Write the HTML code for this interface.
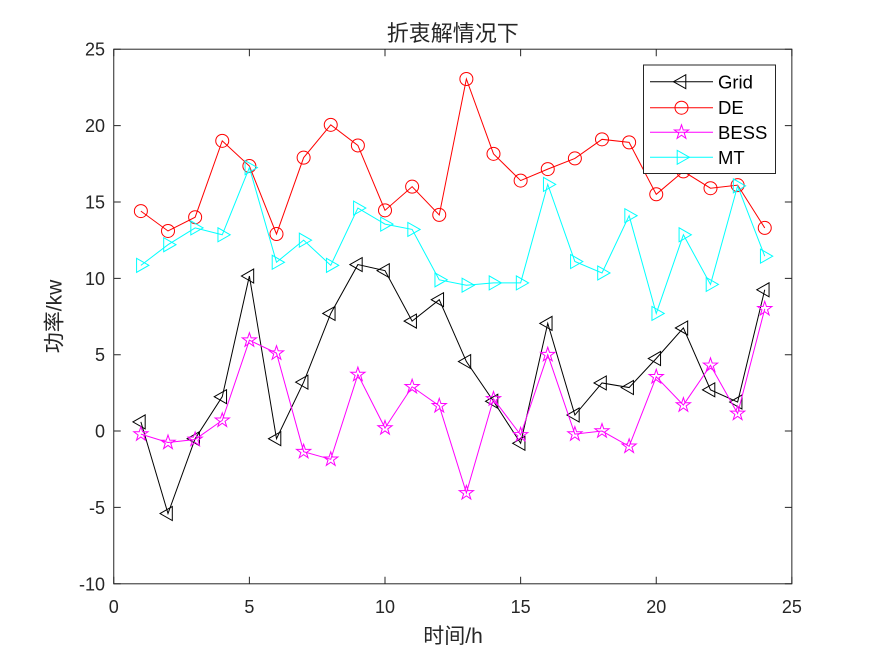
<!DOCTYPE html>
<html>
<head>
<meta charset="utf-8">
<style>
  html,body{margin:0;padding:0;background:#fff;}
  svg{display:block;}
  .tick{font-family:"Liberation Sans",Arial,sans-serif;font-size:18px;fill:#262626;}
  .cjk{font-family:"Liberation Sans","Noto Sans CJK SC",sans-serif;fill:#262626;}
  .leg{font-family:"Liberation Sans",Arial,sans-serif;font-size:18.5px;fill:#000;}
</style>
</head>
<body>
<svg width="875" height="656" viewBox="0 0 875 656" xmlns="http://www.w3.org/2000/svg">
  <defs>
    <path id="tl" d="M-8,0 L4.3,-7 L4.3,7 Z"/>
    <path id="tr" d="M8,0 L-4.3,-7 L-4.3,7 Z"/>
    <circle id="ci" cx="0" cy="0" r="6.5"/>
    <path id="st" d="M0,-7.5 L1.7,-2.35 L7.13,-2.32 L2.76,0.9 L4.41,6.07 L0,2.9 L-4.41,6.07 L-2.76,0.9 L-7.13,-2.32 L-1.7,-2.35 Z"/>
  </defs>
  <rect x="0" y="0" width="875" height="656" fill="#fff"/>

  <!-- axes box -->
  <rect x="113.75" y="49.2" width="678.1" height="534.6" fill="#fff" stroke="#262626" stroke-width="1"/>

  <!-- ticks -->
  <g stroke="#262626" stroke-width="1" fill="none">
    <path d="M113.75,583.8v-7 M249.38,583.8v-7 M385,583.8v-7 M520.63,583.8v-7 M656.25,583.8v-7 M791.85,583.8v-7"/>
    <path d="M113.75,49.2v7 M249.38,49.2v7 M385,49.2v7 M520.63,49.2v7 M656.25,49.2v7 M791.85,49.2v7"/>
    <path d="M113.75,49.21h7 M113.75,125.58h7 M113.75,201.95h7 M113.75,278.32h7 M113.75,354.69h7 M113.75,431.06h7 M113.75,507.43h7 M113.75,583.8h7"/>
    <path d="M791.85,49.21h-7 M791.85,125.58h-7 M791.85,201.95h-7 M791.85,278.32h-7 M791.85,354.69h-7 M791.85,431.06h-7 M791.85,507.43h-7 M791.85,583.8h-7"/>
  </g>

  <!-- x tick labels -->
  <g class="tick" text-anchor="middle">
    <text x="113.75" y="613">0</text>
    <text x="249.38" y="613">5</text>
    <text x="385" y="613">10</text>
    <text x="520.63" y="613">15</text>
    <text x="656.25" y="613">20</text>
    <text x="791.85" y="613">25</text>
  </g>
  <!-- y tick labels -->
  <g class="tick" text-anchor="end">
    <text x="105" y="55.7">25</text>
    <text x="105" y="132.1">20</text>
    <text x="105" y="208.5">15</text>
    <text x="105" y="284.8">10</text>
    <text x="105" y="361.2">5</text>
    <text x="105" y="437.6">0</text>
    <text x="105" y="513.9">-5</text>
    <text x="105" y="590.3">-10</text>
  </g>

  <!-- title & labels -->
  <text class="cjk" x="452.8" y="41" font-size="22" text-anchor="middle">折衷解情况下</text>
  <text class="cjk" x="453" y="643" font-size="21" text-anchor="middle">时间/h</text>
  <text class="cjk" font-size="21" text-anchor="middle" transform="translate(61.5,316.5) rotate(-90)">功率/kw</text>

  <!-- Grid -->
  <g stroke="#000" stroke-width="1" fill="none">
    <polyline points="140.88,421.90 168,513.54 195.13,438.70 222.25,396.69 249.38,276.03 276.5,438.70 303.63,382.18 330.75,313.45 357.88,264.57 385,270.68 412.13,321.09 439.25,299.70 466.38,361.56 493.5,401.28 520.63,443.28 547.75,323.38 574.88,415.02 602,382.95 629.13,387.53 656.25,358.51 683.38,327.96 710.5,389.82 737.63,402.04 764.75,289.78"/>
    <use href="#tl" x="140.88" y="421.90"/><use href="#tl" x="168" y="513.54"/><use href="#tl" x="195.13" y="438.70"/><use href="#tl" x="222.25" y="396.69"/><use href="#tl" x="249.38" y="276.03"/><use href="#tl" x="276.5" y="438.70"/><use href="#tl" x="303.63" y="382.18"/><use href="#tl" x="330.75" y="313.45"/><use href="#tl" x="357.88" y="264.57"/><use href="#tl" x="385" y="270.68"/><use href="#tl" x="412.13" y="321.09"/><use href="#tl" x="439.25" y="299.70"/><use href="#tl" x="466.38" y="361.56"/><use href="#tl" x="493.5" y="401.28"/><use href="#tl" x="520.63" y="443.28"/><use href="#tl" x="547.75" y="323.38"/><use href="#tl" x="574.88" y="415.02"/><use href="#tl" x="602" y="382.95"/><use href="#tl" x="629.13" y="387.53"/><use href="#tl" x="656.25" y="358.51"/><use href="#tl" x="683.38" y="327.96"/><use href="#tl" x="710.5" y="389.82"/><use href="#tl" x="737.63" y="402.04"/><use href="#tl" x="764.75" y="289.78"/>
  </g>

  <!-- DE -->
  <g stroke="#ff0000" stroke-width="1" fill="none">
    <polyline points="140.88,211.11 168,230.97 195.13,217.22 222.25,140.85 249.38,166.06 276.5,234.03 303.63,157.66 330.75,124.82 357.88,145.44 385,210.35 412.13,186.68 439.25,214.93 466.38,78.99 493.5,153.84 520.63,180.57 547.75,169.11 574.88,158.42 602,139.33 629.13,142.38 656.25,194.31 683.38,171.40 710.5,188.20 737.63,185.15 764.75,227.92"/>
    <use href="#ci" x="140.88" y="211.11"/><use href="#ci" x="168" y="230.97"/><use href="#ci" x="195.13" y="217.22"/><use href="#ci" x="222.25" y="140.85"/><use href="#ci" x="249.38" y="166.06"/><use href="#ci" x="276.5" y="234.03"/><use href="#ci" x="303.63" y="157.66"/><use href="#ci" x="330.75" y="124.82"/><use href="#ci" x="357.88" y="145.44"/><use href="#ci" x="385" y="210.35"/><use href="#ci" x="412.13" y="186.68"/><use href="#ci" x="439.25" y="214.93"/><use href="#ci" x="466.38" y="78.99"/><use href="#ci" x="493.5" y="153.84"/><use href="#ci" x="520.63" y="180.57"/><use href="#ci" x="547.75" y="169.11"/><use href="#ci" x="574.88" y="158.42"/><use href="#ci" x="602" y="139.33"/><use href="#ci" x="629.13" y="142.38"/><use href="#ci" x="656.25" y="194.31"/><use href="#ci" x="683.38" y="171.40"/><use href="#ci" x="710.5" y="188.20"/><use href="#ci" x="737.63" y="185.15"/><use href="#ci" x="764.75" y="227.92"/>
  </g>

  <!-- BESS -->
  <g stroke="#ff00ff" stroke-width="1" fill="none">
    <polyline points="140.88,434.11 168,442.52 195.13,439.46 222.25,420.37 249.38,340.18 276.5,353.16 303.63,451.68 330.75,459.32 357.88,374.55 385,428.01 412.13,386.77 439.25,405.86 466.38,492.92 493.5,398.98 520.63,434.88 547.75,354.69 574.88,434.11 602,431.06 629.13,446.33 656.25,376.84 683.38,405.09 710.5,365.38 737.63,413.49 764.75,308.87"/>
    <use href="#st" x="140.88" y="434.11"/><use href="#st" x="168" y="442.52"/><use href="#st" x="195.13" y="439.46"/><use href="#st" x="222.25" y="420.37"/><use href="#st" x="249.38" y="340.18"/><use href="#st" x="276.5" y="353.16"/><use href="#st" x="303.63" y="451.68"/><use href="#st" x="330.75" y="459.32"/><use href="#st" x="357.88" y="374.55"/><use href="#st" x="385" y="428.01"/><use href="#st" x="412.13" y="386.77"/><use href="#st" x="439.25" y="405.86"/><use href="#st" x="466.38" y="492.92"/><use href="#st" x="493.5" y="398.98"/><use href="#st" x="520.63" y="434.88"/><use href="#st" x="547.75" y="354.69"/><use href="#st" x="574.88" y="434.11"/><use href="#st" x="602" y="431.06"/><use href="#st" x="629.13" y="446.33"/><use href="#st" x="656.25" y="376.84"/><use href="#st" x="683.38" y="405.09"/><use href="#st" x="710.5" y="365.38"/><use href="#st" x="737.63" y="413.49"/><use href="#st" x="764.75" y="308.87"/>
  </g>

  <!-- MT -->
  <g stroke="#00ffff" stroke-width="1" fill="none">
    <polyline points="140.88,265.34 168,244.72 195.13,227.92 222.25,234.79 249.38,167.58 276.5,262.28 303.63,240.13 330.75,265.34 357.88,208.06 385,224.10 412.13,229.44 439.25,279.85 466.38,285.19 493.5,282.90 520.63,282.90 547.75,184.38 574.88,261.52 602,272.97 629.13,215.70 656.25,313.45 683.38,234.79 710.5,284.43 737.63,185.91 764.75,256.17"/>
    <use href="#tr" x="140.88" y="265.34"/><use href="#tr" x="168" y="244.72"/><use href="#tr" x="195.13" y="227.92"/><use href="#tr" x="222.25" y="234.79"/><use href="#tr" x="249.38" y="167.58"/><use href="#tr" x="276.5" y="262.28"/><use href="#tr" x="303.63" y="240.13"/><use href="#tr" x="330.75" y="265.34"/><use href="#tr" x="357.88" y="208.06"/><use href="#tr" x="385" y="224.10"/><use href="#tr" x="412.13" y="229.44"/><use href="#tr" x="439.25" y="279.85"/><use href="#tr" x="466.38" y="285.19"/><use href="#tr" x="493.5" y="282.90"/><use href="#tr" x="520.63" y="282.90"/><use href="#tr" x="547.75" y="184.38"/><use href="#tr" x="574.88" y="261.52"/><use href="#tr" x="602" y="272.97"/><use href="#tr" x="629.13" y="215.70"/><use href="#tr" x="656.25" y="313.45"/><use href="#tr" x="683.38" y="234.79"/><use href="#tr" x="710.5" y="284.43"/><use href="#tr" x="737.63" y="185.91"/><use href="#tr" x="764.75" y="256.17"/>
  </g>

  <!-- legend -->
  <rect x="643.5" y="65" width="132" height="108.5" fill="#fff" stroke="#262626" stroke-width="1"/>
  <g stroke-width="1" fill="none">
    <g stroke="#000"><line x1="650" y1="81.7" x2="713" y2="81.7"/><use href="#tl" x="681.5" y="81.7"/></g>
    <g stroke="#ff0000"><line x1="650" y1="107.7" x2="713" y2="107.7"/><use href="#ci" x="681.5" y="107.7"/></g>
    <g stroke="#ff00ff"><line x1="650" y1="132.3" x2="713" y2="132.3"/><use href="#st" x="681.5" y="132.3"/></g>
    <g stroke="#00ffff"><line x1="650" y1="157.3" x2="713" y2="157.3"/><use href="#tr" x="681.5" y="157.3"/></g>
  </g>
  <g class="leg">
    <text x="718" y="88.3">Grid</text>
    <text x="718" y="114">DE</text>
    <text x="718" y="139">BESS</text>
    <text x="718" y="164">MT</text>
  </g>
</svg>
</body>
</html>
